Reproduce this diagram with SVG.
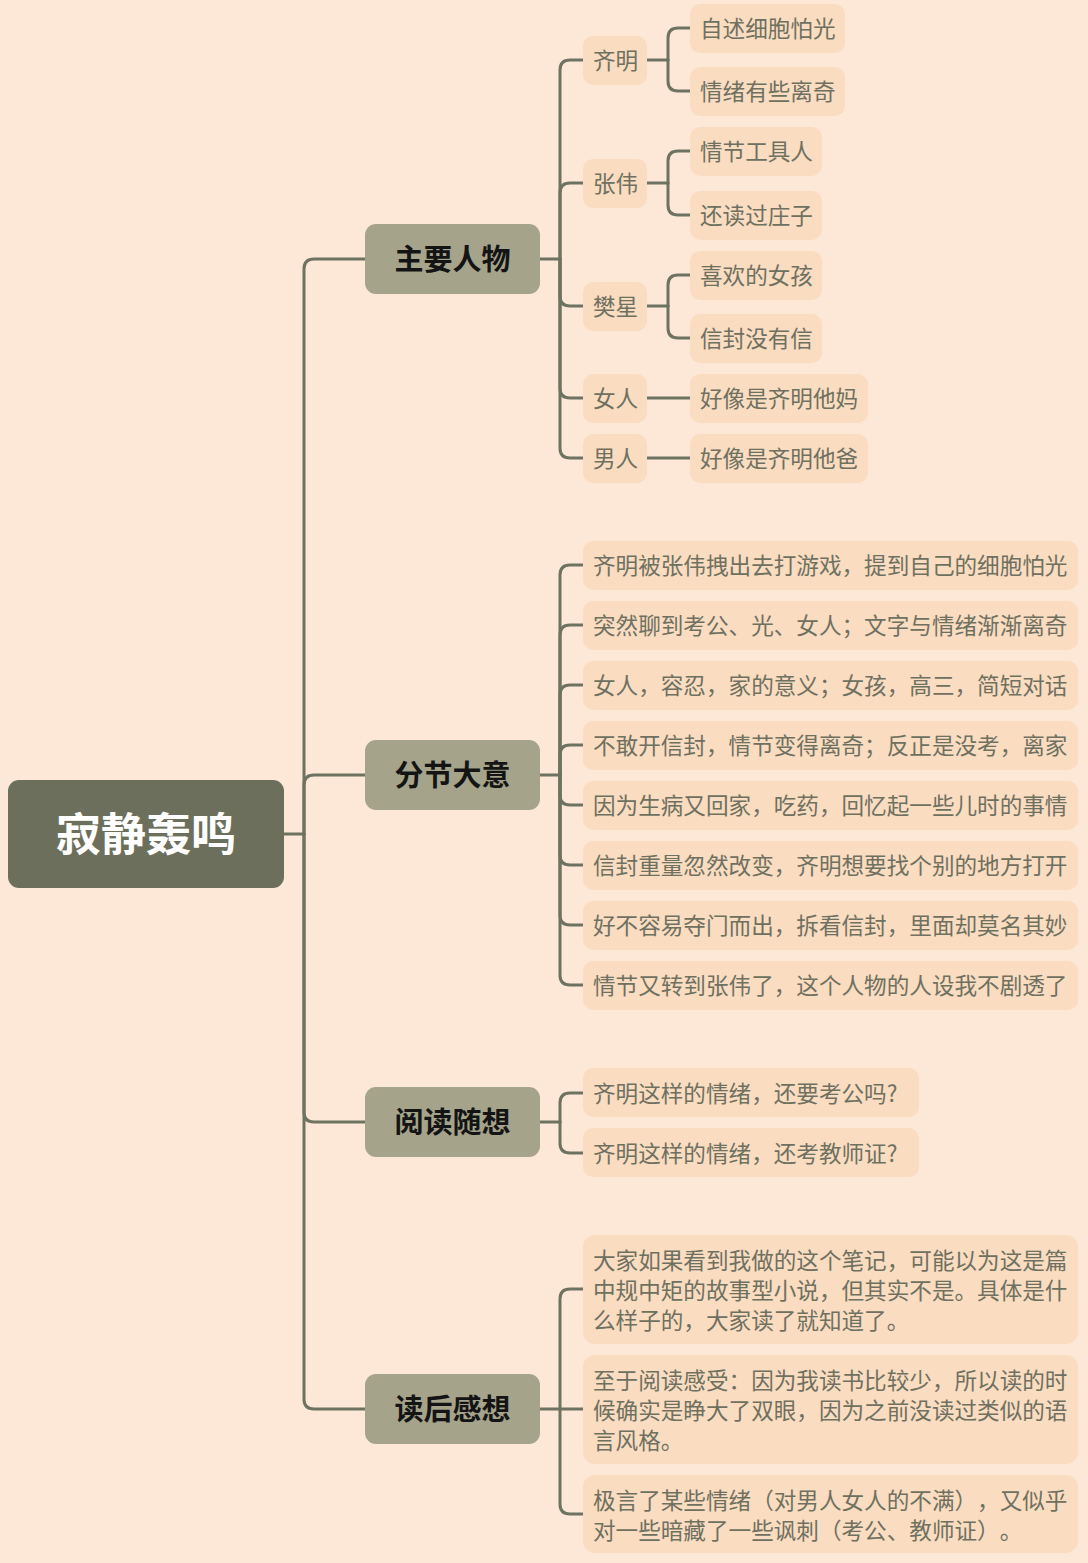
<svg xmlns="http://www.w3.org/2000/svg" width="1088" height="1563" viewBox="0 0 1088 1563">
<style>
.bg{fill:#FDE8D7}
.leaf{fill:#FADCC1}
.br{fill:#A5A48B}
.root{fill:#6C6F5B}
.ln{fill:none;stroke:#6E7261;stroke-width:3;stroke-linecap:round;stroke-linejoin:round}
text{text-spacing-trim:space-all}
.t{font-family:"Noto Sans CJK SC","Noto Sans",sans-serif;font-size:22.6px;fill:#6E7060}
.bt{font-family:"Noto Sans CJK SC","Noto Sans",sans-serif;font-size:29px;font-weight:bold;fill:#141414;text-anchor:middle}
.rt{font-family:"Noto Sans CJK SC","Noto Sans",sans-serif;font-size:45px;font-weight:bold;fill:#FFFFFF;text-anchor:middle}
</style>
<rect class="bg" x="0" y="0" width="1088" height="1563"/>

<g id="connectors">
<path class="ln" d="M284,834 H304"/>
<path class="ln" d="M304,834 V269 Q304,259 314,259 H365"/>
<path class="ln" d="M304,834 V785 Q304,775 314,775 H365"/>
<path class="ln" d="M304,834 V1112 Q304,1122 314,1122 H365"/>
<path class="ln" d="M304,834 V1399 Q304,1409 314,1409 H365"/>

<path class="ln" d="M540,259 H560"/>
<path class="ln" d="M560,259 V70 Q560,60 570,60 H583"/>
<path class="ln" d="M560,259 V193 Q560,183 570,183 H583"/>
<path class="ln" d="M560,259 V296 Q560,306 570,306 H583"/>
<path class="ln" d="M560,259 V388 Q560,398 570,398 H583"/>
<path class="ln" d="M560,259 V448 Q560,458 570,458 H583"/>

<path class="ln" d="M647,60 H668"/>
<path class="ln" d="M668,60 V38 Q668,28 678,28 H690"/>
<path class="ln" d="M668,60 V81 Q668,91 678,91 H690"/>
<path class="ln" d="M647,183 H668"/>
<path class="ln" d="M668,183 V161 Q668,151 678,151 H690"/>
<path class="ln" d="M668,183 V205 Q668,215 678,215 H690"/>
<path class="ln" d="M647,306 H668"/>
<path class="ln" d="M668,306 V285 Q668,275 678,275 H690"/>
<path class="ln" d="M668,306 V328 Q668,338 678,338 H690"/>
<path class="ln" d="M647,398 H690"/>
<path class="ln" d="M647,458 H690"/>

<path class="ln" d="M540,775 H560"/>
<path class="ln" d="M560,775 V575 Q560,565 570,565 H583"/>
<path class="ln" d="M560,775 V635 Q560,625 570,625 H583"/>
<path class="ln" d="M560,775 V695 Q560,685 570,685 H583"/>
<path class="ln" d="M560,775 V755 Q560,745 570,745 H583"/>
<path class="ln" d="M560,775 V795 Q560,805 570,805 H583"/>
<path class="ln" d="M560,775 V855 Q560,865 570,865 H583"/>
<path class="ln" d="M560,775 V915 Q560,925 570,925 H583"/>
<path class="ln" d="M560,775 V975 Q560,985 570,985 H583"/>

<path class="ln" d="M540,1122 H560"/>
<path class="ln" d="M560,1122 V1103 Q560,1093 570,1093 H583"/>
<path class="ln" d="M560,1122 V1143 Q560,1153 570,1153 H583"/>

<path class="ln" d="M540,1409 H583"/>
<path class="ln" d="M560,1409 V1299 Q560,1289 570,1289 H583"/>
<path class="ln" d="M560,1409 V1504 Q560,1514 570,1514 H583"/>
</g>

<g id="root">
<rect class="root" x="8" y="780" width="276" height="108" rx="11"/>
<text class="rt" x="146" y="851">寂静轰鸣</text>
</g>

<g id="b1">
<rect class="br" x="365" y="224" width="175" height="70" rx="11"/>
<text class="bt" x="452.5" y="270">主要人物</text>
</g>
<g id="b2">
<rect class="br" x="365" y="740" width="175" height="70" rx="11"/>
<text class="bt" x="452.5" y="786">分节大意</text>
</g>
<g id="b3">
<rect class="br" x="365" y="1087" width="175" height="70" rx="11"/>
<text class="bt" x="452.5" y="1133">阅读随想</text>
</g>
<g id="b4">
<rect class="br" x="365" y="1374" width="175" height="70" rx="11"/>
<text class="bt" x="452.5" y="1420">读后感想</text>
</g>

<g id="p1"><rect class="leaf" x="583" y="36" width="64" height="49" rx="10"/><text class="t" x="593" y="69">齐明</text></g>
<g id="p2"><rect class="leaf" x="583" y="159" width="64" height="49" rx="10"/><text class="t" x="593" y="192">张伟</text></g>
<g id="p3"><rect class="leaf" x="583" y="282" width="64" height="49" rx="10"/><text class="t" x="593" y="315">樊星</text></g>
<g id="p4"><rect class="leaf" x="583" y="374" width="64" height="49" rx="10"/><text class="t" x="593" y="407">女人</text></g>
<g id="p5"><rect class="leaf" x="583" y="434" width="64" height="49" rx="10"/><text class="t" x="593" y="467">男人</text></g>

<g id="l1"><rect class="leaf" x="690" y="4" width="155" height="49" rx="10"/><text class="t" x="700" y="37">自述细胞怕光</text></g>
<g id="l2"><rect class="leaf" x="690" y="67" width="155" height="49" rx="10"/><text class="t" x="700" y="100">情绪有些离奇</text></g>
<g id="l3"><rect class="leaf" x="690" y="127" width="132" height="49" rx="10"/><text class="t" x="700" y="160">情节工具人</text></g>
<g id="l4"><rect class="leaf" x="690" y="191" width="132" height="49" rx="10"/><text class="t" x="700" y="224">还读过庄子</text></g>
<g id="l5"><rect class="leaf" x="690" y="251" width="132" height="49" rx="10"/><text class="t" x="700" y="284">喜欢的女孩</text></g>
<g id="l6"><rect class="leaf" x="690" y="314" width="132" height="49" rx="10"/><text class="t" x="700" y="347">信封没有信</text></g>
<g id="l7"><rect class="leaf" x="690" y="374" width="178" height="49" rx="10"/><text class="t" x="700" y="407">好像是齐明他妈</text></g>
<g id="l8"><rect class="leaf" x="690" y="434" width="178" height="49" rx="10"/><text class="t" x="700" y="467">好像是齐明他爸</text></g>

<g id="s1"><rect class="leaf" x="583" y="541" width="495" height="49" rx="10"/><text class="t" x="593" y="574">齐明被张伟拽出去打游戏，提到自己的细胞怕光</text></g>
<g id="s2"><rect class="leaf" x="583" y="601" width="495" height="49" rx="10"/><text class="t" x="593" y="634">突然聊到考公、光、女人；文字与情绪渐渐离奇</text></g>
<g id="s3"><rect class="leaf" x="583" y="661" width="495" height="49" rx="10"/><text class="t" x="593" y="694">女人，容忍，家的意义；女孩，高三，简短对话</text></g>
<g id="s4"><rect class="leaf" x="583" y="721" width="495" height="49" rx="10"/><text class="t" x="593" y="754">不敢开信封，情节变得离奇；反正是没考，离家</text></g>
<g id="s5"><rect class="leaf" x="583" y="781" width="495" height="49" rx="10"/><text class="t" x="593" y="814">因为生病又回家，吃药，回忆起一些儿时的事情</text></g>
<g id="s6"><rect class="leaf" x="583" y="841" width="495" height="49" rx="10"/><text class="t" x="593" y="874">信封重量忽然改变，齐明想要找个别的地方打开</text></g>
<g id="s7"><rect class="leaf" x="583" y="901" width="495" height="49" rx="10"/><text class="t" x="593" y="934">好不容易夺门而出，拆看信封，里面却莫名其妙</text></g>
<g id="s8"><rect class="leaf" x="583" y="961" width="495" height="49" rx="10"/><text class="t" x="593" y="994">情节又转到张伟了，这个人物的人设我不剧透了</text></g>

<g id="r1"><rect class="leaf" x="583" y="1068" width="336" height="49" rx="10"/><text class="t" x="593" y="1102">齐明这样的情绪，还要考公吗?</text></g>
<g id="r2"><rect class="leaf" x="583" y="1128" width="336" height="49" rx="10"/><text class="t" x="593" y="1162">齐明这样的情绪，还考教师证?</text></g>

<g id="f1"><rect class="leaf" x="583" y="1235" width="495" height="109" rx="12"/>
<text class="t" x="593" y="1269">大家如果看到我做的这个笔记，可能以为这是篇</text>
<text class="t" x="593" y="1299">中规中矩的故事型小说，但其实不是。具体是什</text>
<text class="t" x="593" y="1329">么样子的，大家读了就知道了。</text></g>
<g id="f2"><rect class="leaf" x="583" y="1355" width="495" height="109" rx="12"/>
<text class="t" x="593" y="1389">至于阅读感受：因为我读书比较少，所以读的时</text>
<text class="t" x="593" y="1419">候确实是睁大了双眼，因为之前没读过类似的语</text>
<text class="t" x="593" y="1449">言风格。</text></g>
<g id="f3"><rect class="leaf" x="583" y="1475" width="495" height="78" rx="12"/>
<text class="t" x="593" y="1509">极言了某些情绪（对男人女人的不满），又似乎</text>
<text class="t" x="593" y="1539">对一些暗藏了一些讽刺（考公、教师证）。</text></g>
</svg>
